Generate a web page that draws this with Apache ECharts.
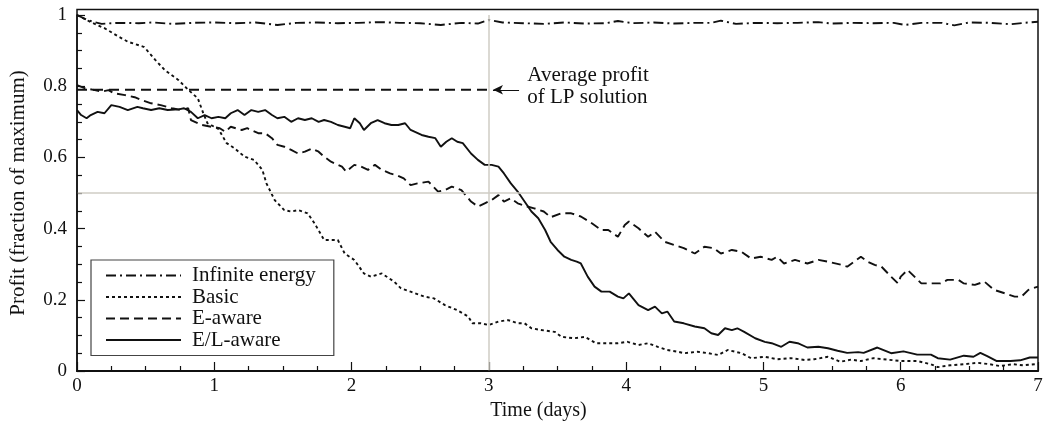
<!DOCTYPE html>
<html>
<head>
<meta charset="utf-8">
<script src="https://cdn.jsdelivr.net/npm/echarts@6/dist/echarts.min.js"></script>
<style>html,body{margin:0;padding:0;background:#fff;}#c{width:1047px;height:432px;}</style>
</head>
<body>
<div id="c"></div>
<script>
// ---- data: [time (days), profit (fraction of maximum)] ----
const infiniteEnergy = [[0,1.0],[0.08,0.985],[0.18,0.975],[0.3,0.978],[0.45,0.977],[0.55,0.979],[0.7,0.975],[0.85,0.978],[1.0,0.979],[1.15,0.977],[1.3,0.979],[1.46,0.972],[1.6,0.978],[1.75,0.979],[1.9,0.977],[2.05,0.978],[2.2,0.98],[2.35,0.978],[2.5,0.977],[2.65,0.972],[2.8,0.978],[2.92,0.976],[3.0,0.986],[3.1,0.979],[3.25,0.977],[3.4,0.975],[3.55,0.979],[3.7,0.976],[3.85,0.977],[3.94,0.983],[4.05,0.977],[4.2,0.979],[4.35,0.976],[4.5,0.978],[4.62,0.978],[4.69,0.984],[4.8,0.975],[4.95,0.978],[5.1,0.977],[5.25,0.978],[5.4,0.98],[5.5,0.976],[5.65,0.978],[5.8,0.977],[5.95,0.978],[6.03,0.972],[6.15,0.978],[6.3,0.978],[6.39,0.971],[6.5,0.979],[6.65,0.978],[6.8,0.974],[6.9,0.978],[7.0,0.981]];
const basic = [[0,1.0],[0.1,0.98],[0.2,0.963],[0.3,0.94],[0.37,0.925],[0.49,0.91],[0.57,0.874],[0.64,0.845],[0.74,0.817],[0.81,0.79],[0.88,0.766],[0.92,0.724],[0.95,0.696],[1.03,0.68],[1.09,0.64],[1.15,0.625],[1.22,0.602],[1.29,0.593],[1.35,0.565],[1.38,0.527],[1.44,0.48],[1.51,0.452],[1.56,0.448],[1.61,0.452],[1.68,0.443],[1.73,0.415],[1.8,0.368],[1.9,0.368],[1.95,0.33],[2.02,0.312],[2.09,0.274],[2.14,0.265],[2.22,0.274],[2.31,0.251],[2.36,0.232],[2.43,0.223],[2.53,0.209],[2.6,0.204],[2.68,0.185],[2.77,0.171],[2.85,0.153],[2.88,0.134],[2.94,0.134],[3.0,0.129],[3.07,0.139],[3.14,0.143],[3.21,0.134],[3.26,0.134],[3.31,0.12],[3.38,0.115],[3.48,0.11],[3.53,0.096],[3.62,0.092],[3.7,0.096],[3.78,0.078],[3.87,0.078],[3.94,0.078],[4.01,0.082],[4.09,0.073],[4.16,0.078],[4.23,0.068],[4.3,0.059],[4.38,0.054],[4.42,0.05],[4.52,0.054],[4.6,0.05],[4.67,0.045],[4.74,0.059],[4.84,0.05],[4.91,0.036],[5.01,0.04],[5.1,0.033],[5.2,0.036],[5.3,0.031],[5.37,0.033],[5.47,0.04],[5.56,0.026],[5.64,0.032],[5.71,0.028],[5.8,0.036],[5.9,0.032],[6.0,0.028],[6.12,0.028],[6.22,0.019],[6.27,0.011],[6.36,0.016],[6.46,0.019],[6.56,0.023],[6.65,0.019],[6.72,0.014],[6.82,0.019],[6.89,0.016],[7.0,0.02]];
const eAware = [[0,0.803],[0.06,0.794],[0.13,0.789],[0.18,0.785],[0.23,0.789],[0.27,0.78],[0.35,0.775],[0.42,0.769],[0.47,0.761],[0.54,0.752],[0.61,0.747],[0.69,0.738],[0.76,0.733],[0.81,0.738],[0.83,0.705],[0.91,0.691],[0.98,0.686],[1.04,0.682],[1.08,0.672],[1.12,0.686],[1.2,0.677],[1.24,0.682],[1.32,0.668],[1.37,0.668],[1.42,0.654],[1.46,0.635],[1.51,0.63],[1.56,0.621],[1.61,0.611],[1.66,0.616],[1.71,0.625],[1.76,0.616],[1.8,0.602],[1.85,0.588],[1.93,0.574],[1.96,0.56],[2.02,0.579],[2.07,0.574],[2.12,0.565],[2.17,0.579],[2.22,0.565],[2.28,0.555],[2.33,0.55],[2.38,0.541],[2.43,0.522],[2.48,0.527],[2.56,0.532],[2.63,0.504],[2.68,0.508],[2.73,0.518],[2.8,0.508],[2.87,0.476],[2.92,0.462],[2.97,0.471],[3.02,0.48],[3.07,0.494],[3.11,0.476],[3.16,0.485],[3.21,0.471],[3.28,0.462],[3.33,0.457],[3.4,0.448],[3.45,0.432],[3.53,0.443],[3.6,0.443],[3.67,0.434],[3.75,0.415],[3.82,0.396],[3.87,0.396],[3.94,0.377],[3.99,0.41],[4.02,0.42],[4.09,0.401],[4.16,0.377],[4.21,0.391],[4.28,0.363],[4.35,0.354],[4.42,0.345],[4.5,0.33],[4.57,0.349],[4.64,0.345],[4.69,0.33],[4.77,0.34],[4.84,0.335],[4.91,0.316],[4.98,0.321],[5.06,0.312],[5.1,0.321],[5.15,0.302],[5.23,0.312],[5.32,0.302],[5.4,0.312],[5.47,0.307],[5.57,0.298],[5.61,0.293],[5.66,0.307],[5.71,0.321],[5.76,0.307],[5.81,0.298],[5.86,0.293],[5.93,0.265],[5.98,0.246],[6.0,0.265],[6.05,0.284],[6.1,0.265],[6.15,0.246],[6.22,0.246],[6.29,0.246],[6.34,0.256],[6.42,0.256],[6.46,0.246],[6.54,0.242],[6.61,0.251],[6.68,0.228],[6.76,0.218],[6.83,0.209],[6.88,0.209],[6.93,0.228],[7.0,0.237]];
const elAware = [[0,0.733],[0.03,0.719],[0.07,0.71],[0.1,0.719],[0.15,0.728],[0.2,0.724],[0.25,0.747],[0.31,0.742],[0.37,0.733],[0.44,0.742],[0.48,0.738],[0.54,0.733],[0.6,0.738],[0.66,0.733],[0.74,0.735],[0.78,0.738],[0.83,0.728],[0.88,0.71],[0.93,0.719],[0.98,0.71],[1.03,0.714],[1.08,0.71],[1.12,0.724],[1.17,0.733],[1.22,0.719],[1.27,0.733],[1.32,0.728],[1.37,0.733],[1.42,0.719],[1.46,0.71],[1.51,0.714],[1.56,0.7],[1.61,0.71],[1.66,0.705],[1.71,0.71],[1.76,0.7],[1.8,0.705],[1.85,0.7],[1.9,0.691],[1.95,0.686],[1.99,0.682],[2.02,0.71],[2.06,0.696],[2.09,0.677],[2.14,0.696],[2.19,0.705],[2.24,0.696],[2.29,0.691],[2.34,0.691],[2.39,0.696],[2.43,0.677],[2.51,0.663],[2.56,0.658],[2.61,0.654],[2.65,0.63],[2.69,0.644],[2.73,0.654],[2.77,0.644],[2.81,0.64],[2.87,0.611],[2.92,0.593],[2.97,0.579],[3.02,0.579],[3.07,0.574],[3.11,0.555],[3.16,0.527],[3.21,0.504],[3.26,0.476],[3.31,0.448],[3.36,0.429],[3.41,0.396],[3.45,0.363],[3.5,0.34],[3.55,0.321],[3.6,0.312],[3.64,0.307],[3.67,0.302],[3.72,0.265],[3.77,0.237],[3.82,0.223],[3.88,0.223],[3.94,0.209],[3.98,0.204],[4.02,0.218],[4.09,0.185],[4.16,0.171],[4.21,0.181],[4.26,0.162],[4.3,0.167],[4.35,0.139],[4.42,0.134],[4.5,0.125],[4.57,0.12],[4.62,0.106],[4.67,0.101],[4.72,0.12],[4.77,0.115],[4.81,0.12],[4.86,0.11],[4.94,0.092],[5.01,0.082],[5.06,0.078],[5.13,0.068],[5.19,0.082],[5.25,0.078],[5.32,0.066],[5.4,0.068],[5.47,0.064],[5.54,0.057],[5.61,0.051],[5.69,0.053],[5.73,0.051],[5.83,0.066],[5.93,0.05],[6.02,0.055],[6.12,0.046],[6.22,0.046],[6.27,0.036],[6.36,0.032],[6.46,0.043],[6.53,0.04],[6.58,0.051],[6.63,0.042],[6.7,0.028],[6.8,0.028],[6.87,0.03],[6.94,0.038],[7.0,0.038]];
const lpAverage = [[0,0.79],[3,0.79]];
const seriesNames = ['Infinite energy','Basic','E-aware','E/L-aware'];
const annotationLines = ['Average profit','of LP solution'];
const refTime = 3, refProfit = 0.5;

const FONT = 'Liberation Serif';
const INK = '#111';
const GRID = {left:76, right:9, top:15, bottom:61};

const chart = echarts.init(document.getElementById('c'), null, {renderer:'canvas'});
const lineBase = {type:'line', showSymbol:false, symbol:'none', smooth:false, silent:true, animation:false};

chart.setOption({
  animation:false,
  textStyle:{fontFamily:FONT, color:INK},
  grid:{left:GRID.left, right:GRID.right, top:GRID.top, bottom:GRID.bottom, show:false},
  xAxis:{
    type:'value', min:0, max:7, interval:1,
    name:'Time (days)', nameLocation:'middle', nameGap:30,
    nameTextStyle:{fontFamily:FONT, fontSize:20, color:INK, padding:[0,38,0,0]},
    axisLine:{lineStyle:{color:INK, width:2}},
    axisTick:{inside:true, length:9, lineStyle:{color:INK, width:1.2}},
    minorTick:{show:true, splitNumber:4, length:5, lineStyle:{color:INK, width:1.2}},
    axisLabel:{fontFamily:FONT, fontSize:19, color:INK, margin:6},
    splitLine:{show:false}, minorSplitLine:{show:false}
  },
  yAxis:{
    type:'value', min:0, max:1, interval:0.2,
    name:'Profit (fraction of maximum)', nameLocation:'middle', nameGap:48,
    nameTextStyle:{fontFamily:FONT, fontSize:21, color:INK},
    axisLine:{lineStyle:{color:INK, width:1.5}},
    axisTick:{inside:true, length:8, lineStyle:{color:INK, width:1.2}},
    minorTick:{show:true, splitNumber:4, length:5, lineStyle:{color:INK, width:1.2}},
    axisLabel:{fontFamily:FONT, fontSize:19, color:INK, margin:10, formatter:v=>String(+v.toFixed(2))},
    splitLine:{show:false}
  },
  legend:{
    data:seriesNames, orient:'vertical', left:91, top:260,
    itemWidth:75, itemHeight:14, itemGap:0.5,
    padding:[5,18,5,14],
    backgroundColor:'#fff', borderColor:'#444', borderWidth:1.2,
    itemStyle:{color:'rgba(0,0,0,0)', borderWidth:0, opacity:0},
    lineStyle:{width:2},
    textStyle:{fontFamily:FONT, fontSize:21, lineHeight:21, color:INK, padding:[0,0,0,6]},
    selectedMode:false
  },
  series:[
    {type:'line', name:'__ref', data:[], silent:true, z:1,
      markLine:{silent:true, symbol:'none', label:{show:false}, animation:false,
        lineStyle:{color:'#cfccc4', width:1.5, type:'solid'},
        data:[{xAxis:refTime},{yAxis:refProfit}]}},
    Object.assign({}, lineBase, {name:'Infinite energy', data:infiniteEnergy, z:3,
      lineStyle:{color:INK, width:1.9, type:[10,4,2,4]}, itemStyle:{color:INK}}),
    Object.assign({}, lineBase, {name:'Basic', data:basic, z:3,
      lineStyle:{color:INK, width:1.9, type:[3,3]}, itemStyle:{color:INK}}),
    Object.assign({}, lineBase, {name:'E-aware', data:eAware, z:3,
      lineStyle:{color:INK, width:1.9, type:[9,5]}, itemStyle:{color:INK}}),
    Object.assign({}, lineBase, {name:'E/L-aware', data:elAware, z:3,
      lineStyle:{color:INK, width:1.9, type:'solid'}, itemStyle:{color:INK}}),
    Object.assign({}, lineBase, {name:'LP average', data:lpAverage, z:3,
      lineStyle:{color:INK, width:1.9, type:[10,6]},
      markLine:{silent:true, animation:false, label:{show:false},
        symbol:['none','arrow'], symbolSize:[7,10],
        lineStyle:{color:INK, width:1, type:'solid'},
        data:[[{coord:[3.22,lpAverage[1][1]]},{coord:[3.03,lpAverage[1][1]]}]]}})
  ]
});

// frame and annotation text
const p0 = chart.convertToPixel({gridIndex:0}, [0, 0]);
const p1 = chart.convertToPixel({gridIndex:0}, [7, 1]);
const pa = chart.convertToPixel({gridIndex:0}, [3.28, lpAverage[1][1]]);
chart.setOption({
  graphic:[
    {type:'rect', silent:true, z:10, shape:{x:p0[0], y:p1[1]-5.5, width:p1[0]-p0[0], height:p0[1]-p1[1]+5.5},
      style:{fill:'none', stroke:INK, lineWidth:1.5}},
    {type:'text', silent:true, z:10, x:pa[0], y:pa[1]-3,
      style:{text:annotationLines.join('\n'), font:'21px "'+FONT+'"', fill:INK, lineHeight:22,
        textAlign:'left', textVerticalAlign:'middle'}}
  ]
});
</script>
</body>
</html>
